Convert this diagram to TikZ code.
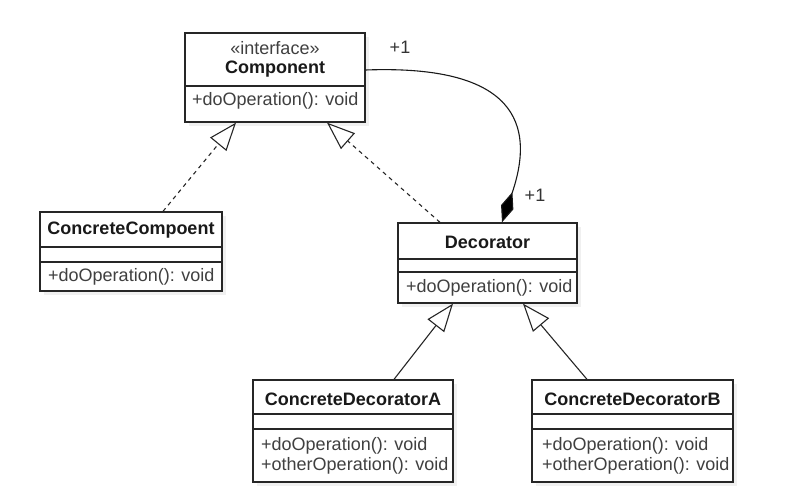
\documentclass[tikz,border=0pt]{standalone}
\usepackage{fontspec}
\setmainfont{Liberation Sans}
\usetikzlibrary{arrows.meta,shadows}
\begin{document}
\begin{tikzpicture}[x=1pt,y=-1pt,
  classbox/.style={draw=black!85, line width=1.3pt, fill=white, inner sep=0pt,
    drop shadow={opacity=0.12, shadow xshift=4pt, shadow yshift=-4pt}},
  divider/.style={draw=black!85, line width=1.3pt},
  title/.style={font=\fontsize{18}{22}\selectfont\bfseries, text=black!90, inner sep=0pt},
  stereo/.style={font=\fontsize{18}{22}\selectfont, text=black!75, inner sep=0pt},
  op/.style={font=\fontsize{18}{22}\selectfont, text=black!75, inner sep=0pt, anchor=west},
  mult/.style={font=\fontsize{18}{22}\selectfont, text=black!80, inner sep=0pt},
  realize/.style={draw=black!85, line width=1.1pt, dash pattern=on 4pt off 4pt,
    -{Triangle[length=28pt,width=21pt,fill=white,line width=1.1pt]}},
  inherit/.style={draw=black!85, line width=1.1pt,
    -{Triangle[length=28pt,width=21pt,fill=white,line width=1.1pt]}},
  compose/.style={draw=black!90, line width=1.1pt,
    -{Diamond[length=32pt,width=13pt,fill=black]}}
]
\useasboundingbox (0,0) rectangle (809,493);

% Component
\node[classbox, minimum width=180pt, minimum height=89pt] (comp) at (275,77.5) {};
\draw[divider] (comp.west |- 0,86) -- (comp.east |- 0,86);
\node[stereo] (compst) at (275,48) {«interface»};
\node[title] (comptitle) at (275,69) {Component};
\node[op] (compop) at (192,101) {+doOperation(): void};

% ConcreteCompoent
\node[classbox, minimum width=182pt, minimum height=79pt] (cc) at (131,251.5) {};
\draw[divider] (cc.west |- 0,247) -- (cc.east |- 0,247);
\draw[divider] (cc.west |- 0,262) -- (cc.east |- 0,262);
\node[title] (cctitle) at (131,230) {ConcreteCompoent};
\node[op] (ccop) at (48,277) {+doOperation(): void};

% Decorator
\node[classbox, minimum width=179pt, minimum height=80pt] (dec) at (487.5,263) {};
\draw[divider] (dec.west |- 0,259) -- (dec.east |- 0,259);
\draw[divider] (dec.west |- 0,272) -- (dec.east |- 0,272);
\node[title] (dectitle) at (487.5,242) {Decorator};
\node[op] (decop) at (406,288) {+doOperation(): void};

% ConcreteDecoratorA
\node[classbox, minimum width=200pt, minimum height=102pt] (cda) at (353,431) {};
\draw[divider] (cda.west |- 0,414) -- (cda.east |- 0,414);
\draw[divider] (cda.west |- 0,429) -- (cda.east |- 0,429);
\node[title] (cdatitle) at (353,399) {ConcreteDecoratorA};
\node[op] (cdaop1) at (261,446) {+doOperation(): void};
\node[op] (cdaop2) at (261,466) {+otherOperation(): void};

% ConcreteDecoratorB
\node[classbox, minimum width=201pt, minimum height=102pt] (cdb) at (632.5,431) {};
\draw[divider] (cdb.west |- 0,414) -- (cdb.east |- 0,414);
\draw[divider] (cdb.west |- 0,429) -- (cdb.east |- 0,429);
\node[title] (cdbtitle) at (632.5,399) {ConcreteDecoratorB};
\node[op] (cdbop1) at (542,446) {+doOperation(): void};
\node[op] (cdbop2) at (542,466) {+otherOperation(): void};

% Realizations
\draw[realize] ([xshift=32pt]cc.north) -- ([xshift=-39pt]comp.south);
\draw[realize] ([xshift=-47.5pt]dec.north) -- ([xshift=52pt]comp.south);

% Generalizations
\draw[inherit] ([xshift=41pt]cda.north) -- ([xshift=-34.5pt]dec.south);
\draw[inherit] ([xshift=-45.5pt]cdb.north) -- ([xshift=35.5pt]dec.south);

% Composition
\draw[compose] ([yshift=7.5pt]comp.east) .. controls (500,65) and (540,112) .. ([xshift=14.5pt]dec.north);
\node[mult] (m1) at (400,47) {+1};
\node[mult] (m2) at (535,195) {+1};
\end{tikzpicture}
\end{document}
